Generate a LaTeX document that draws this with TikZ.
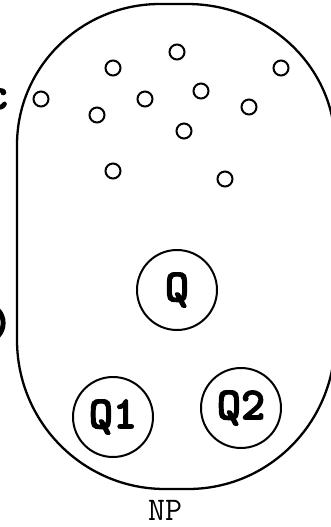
\documentclass[tikz,border=0pt]{standalone}
\font\qfont="[lmmonolt10-bold]:embolden=2.5" at 46pt
\begin{document}
\begin{tikzpicture}[x=1pt,y=1pt,
  outline/.style={line width=2.3pt},
  dot/.style={circle,draw,line width=2pt,minimum size=15pt,inner sep=0pt},
  qnode/.style={circle,draw,line width=2pt,minimum size=80pt,inner sep=0pt,
    font=\qfont},
  frag/.style={inner sep=0pt,font=\qfont},
  lbl/.style={inner sep=0pt,font=\ttfamily\fontsize{33}{33}\selectfont}]
\useasboundingbox (0,0) rectangle (331,-527);
\clip (0,0) rectangle (331,-527);
% NP region outline
\draw[outline] (17,-340) -- (17,-145)
  arc[start angle=180,end angle=90,x radius=143pt,y radius=141pt]
  -- (187,-4)
  arc[start angle=90,end angle=0,x radius=148pt,y radius=141pt]
  -- (335,-340)
  arc[start angle=0,end angle=-90,x radius=147pt,y radius=149pt]
  -- (165,-489)
  arc[start angle=270,end angle=180,x radius=148pt,y radius=149pt]
  -- cycle;
% small dots
\node[dot] (d1) at (113,-68) {};
\node[dot] (d2) at (177,-52) {};
\node[dot] (d3) at (281,-68) {};
\node[dot] (d4) at (41,-99) {};
\node[dot] (d5) at (145,-99) {};
\node[dot] (d6) at (201,-91) {};
\node[dot] (d7) at (249,-107) {};
\node[dot] (d8) at (97,-115) {};
\node[dot] (d9) at (184,-131) {};
\node[dot] (d10) at (113,-171) {};
\node[dot] (d11) at (225,-179) {};
% big circles
\node[qnode] (q) at (177,-290) {Q};
\node[qnode] (q1) at (113,-417) {Q1};
\node[qnode] (q2) at (241,-408) {Q2};
% label
\node[lbl] (np) at (165,-510) {NP};
% cropped fragments at left edge
\node[frag,anchor=east] (fc) at (9,-99) {c};
\node[frag,anchor=east] (fp) at (13,-323) {)};
\end{tikzpicture}
\end{document}
